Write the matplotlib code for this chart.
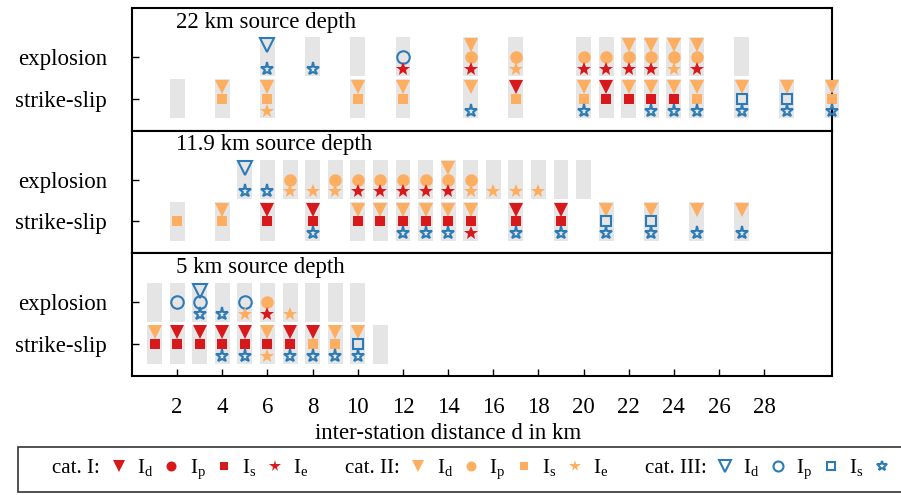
import numpy as np
import matplotlib
matplotlib.use("Agg")
import matplotlib.pyplot as plt
from matplotlib.lines import Line2D

plt.rcParams['font.family'] = ['Liberation Serif', 'DejaVu Serif']
plt.rcParams['mathtext.fontset'] = 'custom'
plt.rcParams['mathtext.rm'] = 'Liberation Serif'
plt.rcParams['font.size'] = 16.5

# category codes: 0 = none, 1 = cat. I, 2 = cat. II, 3 = cat. III
# 22 km source depth
d22_exp = [6, 8, 10, 12, 15, 17, 20, 21, 22, 23, 24, 25, 27]
d22_exp_Id = [3, 0, 0, 0, 2, 0, 0, 0, 2, 2, 2, 2, 0]
d22_exp_Ip = [0, 0, 0, 3, 2, 2, 2, 2, 2, 2, 2, 2, 0]
d22_exp_Ie = [3, 3, 0, 1, 1, 2, 1, 1, 1, 1, 2, 1, 0]
d22_ss = [2, 4, 6, 10, 12, 15, 17, 20, 21, 22, 23, 24, 25, 27, 29, 31]
d22_ss_Id = [0, 2, 2, 2, 2, 2, 1, 2, 1, 2, 2, 2, 2, 2, 2, 2]
d22_ss_Is = [0, 2, 2, 2, 2, 0, 2, 2, 1, 1, 1, 1, 2, 3, 3, 2]
d22_ss_Ie = [0, 0, 2, 0, 0, 3, 0, 3, 0, 0, 3, 3, 3, 3, 3, 3]

# 11.9 km source depth
d12_exp = [5, 6, 7, 8, 9, 10, 11, 12, 13, 14, 15, 16, 17, 18, 19, 20]
d12_exp_Id = [3, 0, 0, 0, 0, 0, 0, 0, 0, 2, 0, 0, 0, 0, 0, 0]
d12_exp_Ip = [0, 0, 2, 0, 2, 2, 2, 2, 2, 2, 2, 0, 0, 0, 0, 0]
d12_exp_Ie = [3, 3, 2, 2, 2, 1, 1, 1, 1, 1, 2, 2, 2, 2, 0, 0]
d12_ss = [2, 4, 6, 8, 10, 11, 12, 13, 14, 15, 17, 19, 21, 23, 25, 27]
d12_ss_Id = [0, 2, 1, 1, 2, 2, 2, 2, 2, 2, 1, 1, 2, 2, 2, 2]
d12_ss_Is = [2, 2, 1, 1, 1, 1, 1, 1, 1, 1, 1, 1, 3, 3, 0, 0]
d12_ss_Ie = [0, 0, 0, 3, 0, 0, 3, 3, 3, 1, 3, 3, 3, 3, 3, 3]

# 5 km source depth
d5_exp = [1, 2, 3, 4, 5, 6, 7, 8, 9, 10]
d5_exp_Id = [0, 0, 3, 0, 0, 0, 0, 0, 0, 0]
d5_exp_Ip = [0, 3, 3, 0, 3, 2, 0, 0, 0, 0]
d5_exp_Ie = [0, 0, 3, 3, 2, 1, 2, 0, 0, 0]
d5_ss = [1, 2, 3, 4, 5, 6, 7, 8, 9, 10, 11]
d5_ss_Id = [2, 1, 1, 1, 1, 2, 1, 1, 2, 2, 0]
d5_ss_Is = [1, 1, 1, 1, 1, 1, 1, 2, 2, 3, 0]
d5_ss_Ie = [0, 0, 0, 3, 3, 2, 3, 3, 3, 3, 0]

titles = ['22 km source depth', '11.9 km source depth', '5 km source depth']
panels = [
    ((d22_exp, d22_exp_Id, d22_exp_Ip, d22_exp_Ie), (d22_ss, d22_ss_Id, d22_ss_Is, d22_ss_Ie)),
    ((d12_exp, d12_exp_Id, d12_exp_Ip, d12_exp_Ie), (d12_ss, d12_ss_Id, d12_ss_Is, d12_ss_Ie)),
    ((d5_exp, d5_exp_Id, d5_exp_Ip, d5_exp_Ie), (d5_ss, d5_ss_Id, d5_ss_Is, d5_ss_Ie)),
]

colors = {1: '#d7191c', 2: '#fdae61', 3: '#2c7bb6'}
msizes = {'v': 10, 'o': 9, 's': 7.5, '*': 10.5}


def style(cat, marker):
    kw = dict(marker=marker, linestyle='none', markersize=msizes[marker], color=colors[cat])
    if cat == 3:
        kw.update(markerfacecolor='none', markeredgewidth=1.5)
        if marker == '*':
            kw['markersize'] = 9.5
    else:
        kw.update(markeredgewidth=0)
    return kw


fig, axes = plt.subplots(3, 1, figsize=(9.01, 4.95), dpi=100, sharex=True)
fig.subplots_adjust(left=0.1465, right=0.9234, top=0.984, bottom=0.2404, hspace=0)

for ax, title, (exp, ss) in zip(axes, titles, panels):
    # explosion row at y=1, strike-slip row at y=0
    for y0, (d, top, mid, low), mid_marker in [(1, exp, 'o'), (0, ss, 's')]:
        d = np.array(d)
        ax.bar(d, 0.93, width=0.66, bottom=y0 - 0.465, color='#e5e5e5',
               zorder=1, clip_on=False)
        for cats, marker, dy in [(top, 'v', 0.28), (mid, mid_marker, 0.0), (low, '*', -0.28)]:
            cats = np.array(cats)
            for c in (1, 2, 3):
                sel = cats == c
                if sel.any():
                    ax.plot(d[sel], np.full(sel.sum(), y0 + dy), zorder=3,
                            clip_on=False, **style(c, marker))
    ax.set_xlim(0, 31)
    ax.set_ylim(-0.76, 2.17)
    ax.set_yticks([1, 0])
    ax.set_yticklabels(['explosion', 'strike-slip'])
    ax.tick_params(axis='y', direction='in', length=5, width=1, pad=18)
    ax.tick_params(axis='x', direction='in', length=5, width=1, pad=15)
    ax.text(0.063, 0.97, title, transform=ax.transAxes, va='top', ha='left')
    for sp in ax.spines.values():
        sp.set_linewidth(1.5)

for ax in axes[:2]:
    ax.tick_params(axis='x', bottom=False)

axes[2].set_xticks(np.arange(2, 29, 2))
axes[2].set_xlabel('inter-station distance d in km', x=14 / 31, labelpad=4)

# legend: one header column per category, then the four indicators
blank = Line2D([], [], linestyle='none', marker='none')
handles, labels = [], []
for cat, name in [(1, 'cat. I:'), (2, 'cat. II:'), (3, 'cat. III:')]:
    handles.append(blank)
    labels.append(name)
    for marker, sub in [('v', 'd'), ('o', 'p'), ('s', 's'), ('*', 'e')]:
        handles.append(Line2D([], [], **style(cat, marker)))
        labels.append(r'$\mathrm{I}_\mathrm{%s}$' % sub)

leg = fig.legend(handles, labels, ncol=len(handles), loc='upper left',
                 bbox_to_anchor=(18 / 901, 1 - 447 / 495), frameon=True,
                 fancybox=False, edgecolor='black', handlelength=0.54,
                 handletextpad=0.6, columnspacing=0.62, borderpad=0.5,
                 markerscale=0.8, borderaxespad=0, fontsize=15)
leg.get_frame().set_linewidth(1.2)

fig.savefig('out.png', dpi=100)
